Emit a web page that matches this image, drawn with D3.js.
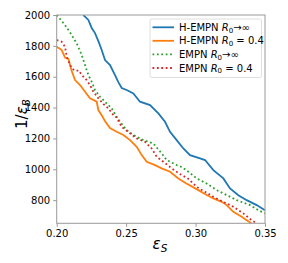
<!DOCTYPE html>
<html><head><meta charset="utf-8">
<script src="https://cdn.jsdelivr.net/npm/d3@7"></script>
<style>body{margin:0;background:#fff}svg{display:block;font-family:"DejaVu Sans",sans-serif}</style>
</head><body><div id="chart"></div>
<script>
const xTicks = [0.20, 0.25, 0.30, 0.35];
const yTicks = [800, 1000, 1200, 1400, 1600, 1800, 2000];
const seriesNames = ["H-EMPN", "H-EMPN", "EMPN", "EMPN"];
const seriesR0 = ["→∞", " = 0.4", "→∞", " = 0.4"];

const hempnInfX = [0.2192,0.2228,0.2252,0.2276,0.2300,0.2324,0.2348,0.2384,0.2420,0.2444,0.2468,0.2504,0.2552,0.2600,0.2672,0.2732,0.2780,0.2816,0.2864,0.2912,0.2960,0.3032,0.3068,0.3128,0.3200,0.3248,0.3308,0.3368,0.3440,0.3500];
const hempnInfY = [2000,1968,1916,1883,1831,1773,1708,1676,1611,1565,1527,1514,1492,1438,1416,1362,1308,1243,1189,1135,1092,1071,1060,995,941,876,832,800,768,735];

const hempn04X = [0.2000,0.2036,0.2060,0.2084,0.2108,0.2132,0.2168,0.2204,0.2240,0.2288,0.2300,0.2324,0.2348,0.2384,0.2432,0.2480,0.2528,0.2576,0.2612,0.2648,0.2708,0.2756,0.2816,0.2876,0.2931,0.3020,0.3080,0.3128,0.3188,0.3224,0.3272,0.3332,0.3368,0.3404];
const hempn04Y = [1794,1773,1724,1715,1637,1578,1546,1503,1460,1438,1384,1351,1312,1267,1243,1222,1189,1146,1092,1049,1027,1006,984,941,910,865,833,811,789,768,724,692,670,649];

const empnInfX = [0.2000,0.2060,0.2108,0.2144,0.2180,0.2204,0.2228,0.2252,0.2276,0.2312,0.2348,0.2396,0.2432,0.2456,0.2504,0.2552,0.2624,0.2696,0.2756,0.2792,0.2864,0.2902,0.2948,0.3008,0.3080,0.3152,0.3224,0.3296,0.3392,0.3452,0.3500];
const empnInfY = [2000,1935,1870,1816,1741,1676,1611,1567,1514,1470,1438,1395,1340,1308,1254,1222,1189,1168,1103,1060,1027,1014,984,941,908,865,833,800,768,735,714];

const empn04X = [0.2000,0.2036,0.2060,0.2072,0.2108,0.2132,0.2160,0.2180,0.2216,0.2240,0.2264,0.2300,0.2336,0.2372,0.2408,0.2432,0.2468,0.2528,0.2576,0.2636,0.2684,0.2720,0.2768,0.2828,0.2888,0.2945,0.3008,0.3068,0.3128,0.3200,0.3272,0.3344,0.3404,0.3440];
const empn04Y = [1838,1827,1794,1730,1654,1640,1640,1611,1578,1546,1503,1460,1423,1395,1351,1335,1275,1233,1200,1178,1135,1081,1049,1006,969,940,886,854,822,789,757,714,670,649];

const colors = ["#1f77b4", "#ff7f0e", "#2ca02c", "#d62728"];
const dashed = [false, false, true, true];
const seriesX = [hempnInfX, hempn04X, empnInfX, empn04X];
const seriesY = [hempnInfY, hempn04Y, empnInfY, empn04Y];

const W = 288, H = 263;
const m = {left: 56.7, top: 15, right: 265, bottom: 223.3};
const svg = d3.select("#chart").append("svg").attr("width", W).attr("height", H);
const x = d3.scaleLinear().domain([0.2, 0.35]).range([m.left, m.right]);
const y = d3.scaleLinear().domain([650, 2000]).range([m.bottom, m.top]);

svg.append("defs").append("clipPath").attr("id", "clip")
  .append("rect").attr("x", m.left).attr("y", m.top).attr("width", m.right - m.left).attr("height", m.bottom - m.top);

const line = d3.line().x(d => x(d[0])).y(d => y(d[1]));
const g = svg.append("g").attr("clip-path", "url(#clip)");
seriesX.forEach((xs, i) => {
  const pts = xs.map((v, j) => [v, seriesY[i][j]]);
  g.append("path").datum(pts).attr("d", line).attr("fill", "none")
    .attr("stroke", colors[i]).attr("stroke-width", 1.8)
    .attr("stroke-dasharray", dashed[i] ? "1.8,2.6" : null);
});

// frame
svg.append("rect").attr("x", m.left).attr("y", m.top).attr("width", m.right - m.left).attr("height", m.bottom - m.top)
  .attr("fill", "none").attr("stroke", "#999").attr("stroke-width", 1);

const xAxis = svg.append("g").attr("transform", `translate(0,${m.bottom})`)
  .call(d3.axisBottom(x).tickValues(xTicks).tickFormat(d3.format(".2f")).tickSize(3.5).tickPadding(3));
const yAxis = svg.append("g").attr("transform", `translate(${m.left},0)`)
  .call(d3.axisLeft(y).tickValues(yTicks).tickFormat(d3.format("d")).tickSize(3.5).tickPadding(3));
[xAxis, yAxis].forEach(a => {
  a.select(".domain").remove();
  a.selectAll(".tick line").attr("stroke", "#999");
  a.selectAll(".tick text").attr("fill", "#000").style("font-size", "10px").style("font-family", "DejaVu Sans");
});

// axis labels
const xl = svg.append("text").attr("x", 160).attr("y", 249).attr("text-anchor", "middle").style("font-size", "15px");
xl.append("tspan").style("font-style", "italic").text("ε");
xl.append("tspan").style("font-style", "italic").style("font-size", "10.5px").attr("dy", 2.5).text("S");

const yl = svg.append("text").attr("transform", "translate(27,114) rotate(-90)").attr("text-anchor", "middle").style("font-size", "15px");
yl.append("tspan").text("1/");
yl.append("tspan").style("font-style", "italic").text("ε");
yl.append("tspan").style("font-style", "italic").style("font-size", "10.5px").attr("dy", 2.5).text("B");

// legend
const lg = svg.append("g");
lg.append("rect").attr("x", 150).attr("y", 19).attr("width", 111.5).attr("height", 58.5).attr("rx", 2)
  .attr("fill", "#fff").attr("fill-opacity", 0.8).attr("stroke", "#d6d6d6").attr("stroke-width", 0.8);
const rowY = [27.3, 40.8, 54.4, 68.0];
seriesNames.forEach((n, i) => {
  lg.append("line").attr("x1", 152.5).attr("x2", 174).attr("y1", rowY[i]).attr("y2", rowY[i])
    .attr("stroke", colors[i]).attr("stroke-width", 1.8).attr("stroke-dasharray", dashed[i] ? "1.8,2.6" : null);
  const t = lg.append("text").attr("x", 179).attr("y", rowY[i] + 3.6).style("font-size", "10px");
  t.append("tspan").text(n + " ");
  t.append("tspan").style("font-style", "italic").text("R");
  t.append("tspan").style("font-size", "7px").attr("dy", 1.6).text("0");
  t.append("tspan").attr("dy", -1.6).text(seriesR0[i]);
});
</script></body></html>
